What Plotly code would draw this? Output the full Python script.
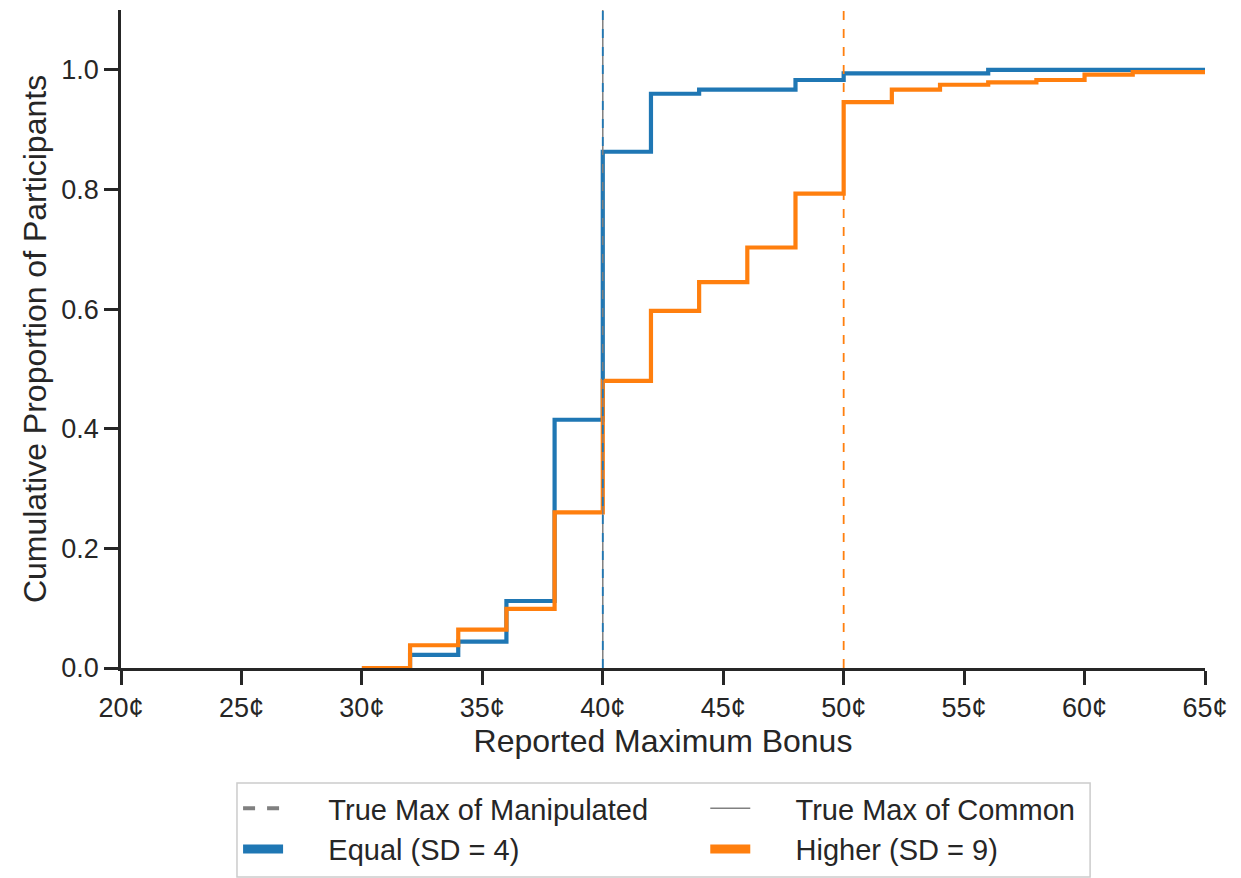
import plotly.graph_objects as go

# Step edges (cents) and cumulative proportions
equal_x = [30, 32, 34, 36, 38, 40, 42, 44, 48, 50, 56, 65]
equal_y = [0.0, 0.022, 0.044, 0.112, 0.415, 0.863, 0.960, 0.967, 0.983, 0.994, 1.0, 1.0]

higher_x = [30, 32, 34, 36, 38, 40, 42, 44, 46, 48, 50, 52, 54, 56, 58, 60, 62, 65]
higher_y = [0.0, 0.038, 0.064, 0.099, 0.260, 0.480, 0.597, 0.645, 0.703, 0.793, 0.946, 0.967,
            0.975, 0.979, 0.983, 0.992, 0.996, 0.996]

true_max_common = 40
true_max_equal = 40
true_max_higher = 50

x_ticks = [20, 25, 30, 35, 40, 45, 50, 55, 60, 65]
x_tick_labels = [f"{v}¢" for v in x_ticks]
y_ticks = [0.0, 0.2, 0.4, 0.6, 0.8, 1.0]
y_tick_labels = [f"{v:.1f}" for v in y_ticks]

legend_left = ["True Max of Manipulated", "Equal (SD = 4)"]
legend_right = ["True Max of Common", "Higher (SD = 9)"]

BLUE = "#1f77b4"
ORANGE = "#ff7f0e"
GREY = "#808080"
DARK = "#262626"
FONT = "Liberation Sans, Arial, sans-serif"
PAD = "\u00a0" * 5

fig = go.Figure()

# legend-only entries (two columns -> two legends)
fig.add_trace(go.Scatter(x=[None], y=[None], mode="lines", name=PAD + legend_left[0],
                         legend="legend", line=dict(color=GREY, width=4, dash="dash")))
fig.add_trace(go.Scatter(x=[None], y=[None], mode="lines", name=PAD + legend_left[1],
                         legend="legend", line=dict(color=BLUE, width=9)))
fig.add_trace(go.Scatter(x=[None], y=[None], mode="lines", name=PAD + legend_right[0],
                         legend="legend2", line=dict(color=GREY, width=1.5)))
fig.add_trace(go.Scatter(x=[None], y=[None], mode="lines", name=PAD + legend_right[1],
                         legend="legend2", line=dict(color=ORANGE, width=9)))

# vertical reference lines
fig.add_vline(x=true_max_common, line=dict(color=GREY, width=1.5), layer="above")
fig.add_vline(x=true_max_equal, line=dict(color=BLUE, width=1.8, dash="dash"), layer="above")
fig.add_vline(x=true_max_higher, line=dict(color=ORANGE, width=1.8, dash="dash"), layer="above")

# step curves
fig.add_trace(go.Scatter(x=equal_x, y=equal_y, mode="lines", line_shape="hv", showlegend=False,
                         line=dict(color=BLUE, width=4.2)))
fig.add_trace(go.Scatter(x=higher_x, y=higher_y, mode="lines", line_shape="hv", showlegend=False,
                         line=dict(color=ORANGE, width=4.2)))

axis_common = dict(showgrid=False, zeroline=False, showline=True, linecolor=DARK, linewidth=2.5,
                   ticks="outside", ticklen=14, tickwidth=2.5, tickcolor=DARK, automargin=False,
                   tickfont=dict(size=27, color=DARK, family=FONT))

fig.update_xaxes(range=[20, 65], tickmode="array", tickvals=x_ticks, ticktext=x_tick_labels,
                 title=dict(text="Reported Maximum Bonus", font=dict(size=32, color=DARK, family=FONT),
                            standoff=2),
                 **axis_common)
fig.update_yaxes(range=[0, 1.1], tickmode="array", tickvals=y_ticks, ticktext=y_tick_labels,
                 title=dict(text="Cumulative Proportion of Participants",
                            font=dict(size=32, color=DARK, family=FONT), standoff=6),
                 **axis_common)

# legend frame
fig.add_shape(type="rect", xref="paper", yref="paper", x0=0.107, x1=0.894, y0=-0.3176, y1=-0.1748,
              line=dict(color="#cccccc", width=1.5), fillcolor="white", layer="below")

leg_common = dict(orientation="v", yanchor="top", xanchor="left", y=-0.1748,
                  bgcolor="rgba(0,0,0,0)", borderwidth=0, itemwidth=40,
                  font=dict(size=29, color=DARK, family=FONT))

fig.update_layout(
    width=1241, height=878,
    margin=dict(l=121, r=36, t=10, b=210, autoexpand=False),
    plot_bgcolor="white", paper_bgcolor="white",
    font=dict(family=FONT, color=DARK),
    legend=dict(x=0.108, **leg_common),
    legend2=dict(x=0.539, **leg_common),
)

fig.write_html("out.html", config={"displayModeBar": False},
               post_script="document.body.style.margin='0';document.body.style.overflow='hidden';")
